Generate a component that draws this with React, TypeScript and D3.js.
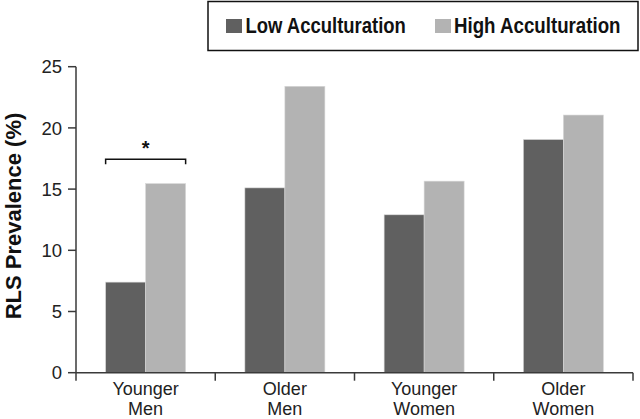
import React from "react";
import * as d3 from "d3";

const categories = [["Younger", "Men"], ["Older", "Men"], ["Younger", "Women"], ["Older", "Women"]];
const seriesNames = ["Low Acculturation", "High Acculturation"];
const lowValues = [7.4, 15.1, 12.9, 19.05];
const highValues = [15.45, 23.4, 15.65, 21.05];
const yTicks = [0, 5, 10, 15, 20, 25];
const colors = ["#606060", "#b3b3b3"];

const W = 640, H = 419;
const left = 76, right = 633, top = 66.7, bottom = 372.7;
const FONT = "'Liberation Sans', Arial, sans-serif";

export default function App() {
  const x = d3.scaleBand<number>().domain(d3.range(categories.length)).range([left, right]).padding(0);
  const y = d3.scaleLinear().domain([0, 25]).range([bottom, top]);
  const barW = 40;
  const axisColor = "#3a3a3a";
  const series = [lowValues, highValues];
  const bw = x.bandwidth();
  const legendPos = [
    { sx: 226, tx: 245.5, k: 0.84 },
    { sx: 435, tx: 454, k: 0.85 },
  ];

  return (
    <svg width={W} height={H} style={{ position: "absolute", left: 0, top: 0, background: "#fff" }} fontFamily={FONT}>
      {/* bars */}
      {categories.map((_, i) => {
        const cx = (x(i) as number) + bw / 2;
        return series.map((vals, s) => (
          <rect
            key={`${i}-${s}`}
            x={cx - barW + s * barW}
            y={y(vals[i])}
            width={barW}
            height={bottom - y(vals[i])}
            fill={colors[s]}
            stroke="#d8d8d8"
            strokeWidth={0.6}
          />
        ));
      })}
      {/* y axis */}
      <line x1={left} x2={left} y1={y(25)} y2={bottom + 8} stroke={axisColor} strokeWidth={1.5} />
      {yTicks.map((t) => (
        <g key={t}>
          <line x1={left - 8} x2={left} y1={y(t)} y2={y(t)} stroke={axisColor} strokeWidth={1.5} />
          <text x={left - 14} y={y(t)} dy="0.36em" textAnchor="end" fontSize={18.5} fill="#222">
            {t}
          </text>
        </g>
      ))}
      {/* x axis */}
      <line x1={left} x2={right} y1={bottom} y2={bottom} stroke={axisColor} strokeWidth={1.5} />
      {categories.map((_, i) => (
        <line key={i} x1={(x(i) as number) + bw} x2={(x(i) as number) + bw} y1={bottom} y2={bottom + 8} stroke={axisColor} strokeWidth={1.5} />
      ))}
      {categories.map((c, i) => {
        const cx = (x(i) as number) + bw / 2;
        return (
          <text key={i} x={cx} textAnchor="middle" fontSize={18} fill="#222">
            <tspan x={cx} y={395}>{c[0]}</tspan>
            <tspan x={cx} y={414.5}>{c[1]}</tspan>
          </text>
        );
      })}
      {/* y title */}
      <text transform={`translate(20.5, 216) rotate(-90)`} textAnchor="middle" fontSize={22} fontWeight="bold" fill="#111">
        RLS Prevalence (%)
      </text>
      {/* significance bracket */}
      {(() => {
        const cx = (x(0) as number) + bw / 2;
        const x1 = cx - barW, x2 = cx + barW, yb = 159.3;
        return (
          <g>
            <path d={`M${x1},${yb + 5}V${yb}H${x2}V${yb + 5}`} fill="none" stroke="#111" strokeWidth={1.5} />
            <text x={cx} y={yb - 4} textAnchor="middle" fontSize={20} fontWeight="bold" fill="#111">*</text>
          </g>
        );
      })()}
      {/* legend */}
      <rect x={208} y={1.5} width={430} height={49} fill="#fff" stroke="#111" strokeWidth={1.5} />
      {seriesNames.map((n, s) => {
        const p = legendPos[s];
        return (
          <g key={n}>
            <rect x={p.sx} y={19} width={16} height={14} fill={colors[s]} />
            <text transform={`translate(${p.tx},33) scale(${p.k},1)`} fontSize={22} fontWeight="bold" fill="#111">
              {n}
            </text>
          </g>
        );
      })}
    </svg>
  );
}
